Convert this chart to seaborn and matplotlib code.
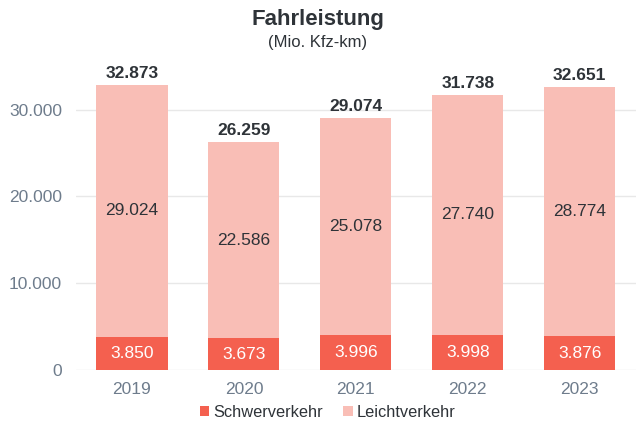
import numpy as np
import pandas as pd
import matplotlib.pyplot as plt
import seaborn as sns

years = ["2019", "2020", "2021", "2022", "2023"]
schwer = [3850, 3673, 3996, 3998, 3876]
leicht = [29024, 22586, 25078, 27740, 28774]
gesamt = [32873, 26259, 29074, 31738, 32651]

c_schwer = "#F4604F"
c_leicht = "#F9BEB6"
tick_col = "#6E7C8C"
text_col = "#2E3338"

sns.set_theme(style="white")
plt.rcParams["font.family"] = ["Liberation Sans", "DejaVu Sans"]

df = pd.DataFrame({"Jahr": years, "Schwerverkehr": schwer, "Leichtverkehr": leicht})

fig = plt.figure(figsize=(6.36, 4.23), dpi=100)
ax = fig.add_axes([0.1195, 0.1253, 0.88, 0.71])

sns.barplot(data=df, x="Jahr", y="Schwerverkehr", color=c_schwer, width=0.635,
            saturation=1, ax=ax, label="Schwerverkehr", linewidth=0, zorder=3)
sns.barplot(data=df, x="Jahr", y="Leichtverkehr", bottom=df["Schwerverkehr"], color=c_leicht,
            width=0.635, saturation=1, ax=ax, label="Leichtverkehr", linewidth=0, zorder=3)
if ax.get_legend() is not None:
    ax.get_legend().remove()

ax.set_xlim(-0.5, 4.5)
ax.set_ylim(0, 34600)
ax.set_yticks([0, 10000, 20000, 30000])
ax.set_yticklabels(["0", "10.000", "20.000", "30.000"])
ax.yaxis.grid(True, color="#E8E8E8", linewidth=1, zorder=0)
ax.set_axisbelow(True)
for s in ax.spines.values():
    s.set_visible(False)
ax.tick_params(axis="y", length=0, labelsize=12.5, labelcolor=tick_col, pad=10)
ax.tick_params(axis="x", length=0, labelsize=12.5, labelcolor=tick_col, pad=9)
ax.set_xlabel("")
ax.set_ylabel("")

for i in range(len(years)):
    ax.text(i, schwer[i] / 2, f"{schwer[i]:,}".replace(",", "."), ha="center", va="center",
            color="white", fontsize=12.5, zorder=4)
    ax.text(i, schwer[i] + leicht[i] / 2, f"{leicht[i]:,}".replace(",", "."), ha="center",
            va="center", color=text_col, fontsize=12.5, zorder=4)
    ax.text(i, schwer[i] + leicht[i] + 450, f"{gesamt[i]:,}".replace(",", "."), ha="center",
            va="bottom", color=text_col, fontsize=12.5, fontweight="bold", zorder=4)

fig.text(0.5, 0.953, "Fahrleistung", ha="center", va="center", fontsize=16,
         fontweight="bold", color=text_col)
fig.text(0.5, 0.9, "(Mio. Kfz-km)", ha="center", va="center", fontsize=12, color=text_col)

handles, labels = ax.get_legend_handles_labels()
leg = fig.legend(handles, labels, loc="center", bbox_to_anchor=(0.515, 0.025), ncol=2,
                 frameon=False, handlelength=0.6, handleheight=0.6, handletextpad=0.25,
                 columnspacing=1.2, fontsize=11.8)
for t in leg.get_texts():
    t.set_color(text_col)

fig.savefig("out.png", dpi=100)
